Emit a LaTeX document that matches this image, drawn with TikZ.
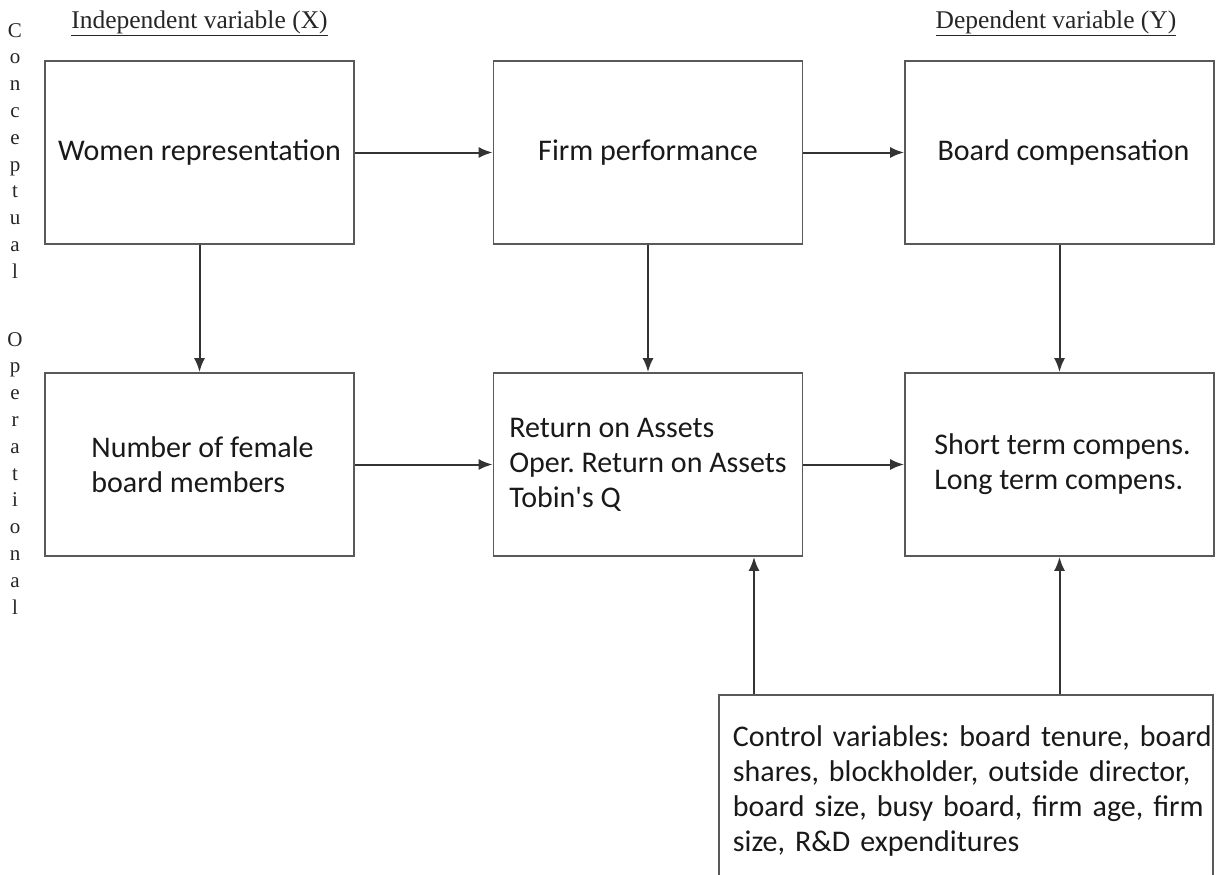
\documentclass[tikz,border=0pt]{standalone}
\usepackage{fontspec}
\setmainfont{Carlito}
\newfontfamily\headfont{Liberation Serif}
\usetikzlibrary{arrows.meta}
\frenchspacing
\begin{document}
\begin{tikzpicture}[x=1pt,y=-1pt,
  box/.style={draw=black!65,line width=1.8pt,minimum width=309pt,minimum height=183pt,inner sep=6pt,align=left,font=\fontsize{30}{35}\selectfont,text=black!90},
  conn/.style={line width=2pt,draw=black!80,-{Latex[length=14pt,width=11pt]}},
  head/.style={font=\headfont\fontsize{25.5}{28}\selectfont,text=black!85},
  side/.style={font=\headfont\fontsize{21}{26.8}\selectfont,align=center,text=black!85,inner sep=0pt}]
\useasboundingbox (0,0) rectangle (1219,875);
\node[head] (hx) at (199.5,23) {\underline{Independent variable (X)}};
\node[head] (hy) at (1056,23) {\underline{Dependent variable (Y)}};
\node[side,anchor=north] (sc) at (15,23) {C\\o\\n\\c\\e\\p\\t\\u\\a\\l};
\node[side,anchor=north] (so) at (15,332) {O\\p\\e\\r\\a\\t\\i\\o\\n\\a\\l};
\node[box] (A) at (199.5,152.5) {Women representation};
\node[box] (B) at (648,152.5) {Firm performance};
\node[box] (C) at (1059.5,152.5) {\hspace*{8pt}Board compensation};
\node[box] (D) at (199.5,464.5) {\hspace*{6pt}Number of female\\\hspace*{6pt}board members};
\node[box] (E) at (648,464.5) {Return on Assets\\Oper. Return on Assets\\Tobin\textquotesingle s Q};
\node[box] (F) at (1059.5,464.5) {\hspace*{6pt}Short term compens.\\\hspace*{6pt}Long term compens.};
\node[box,minimum width=494pt,minimum height=188pt,anchor=north west,text width=478pt,inner sep=0pt,font=\fontsize{30}{35}\selectfont] (G) at (718,694) {\hspace*{6pt}\parbox[c][192pt][c]{486pt}{\raggedright Control variables: board tenure, board\\shares, blockholder, outside director,\\board size, busy board, firm age, firm\\size, R\&D expenditures}};
\coordinate (g1) at (754,694);
\draw[conn] (A) -- (B);
\draw[conn] (B) -- (C);
\draw[conn] (D) -- (E);
\draw[conn] (E) -- (F);
\draw[conn] (A) -- (D);
\draw[conn] (B) -- (E);
\draw[conn] (C) -- (F);
\draw[conn] (G.north -| g1) -- (E.south -| g1);
\draw[conn] (G.north -| F.south) -- (F.south);
\end{tikzpicture}
\end{document}
